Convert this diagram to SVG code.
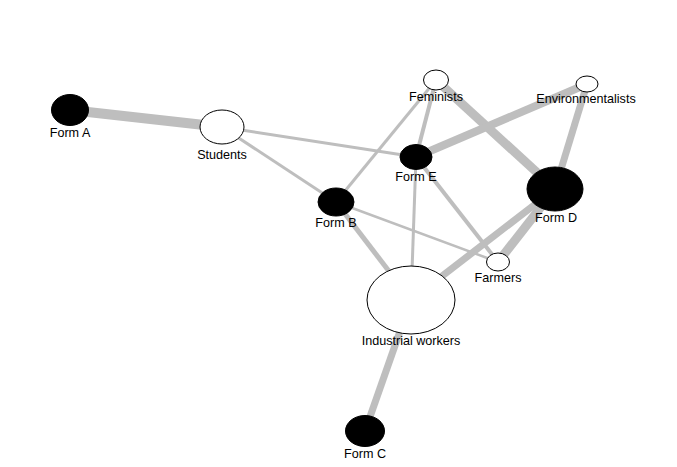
<svg xmlns="http://www.w3.org/2000/svg" width="677" height="467" viewBox="0 0 677 467">
<style>
.e{stroke:#bebebe;stroke-linecap:butt;fill:none}
.b{fill:#000;stroke:#000;stroke-width:1}
.w{fill:#fff;stroke:#000;stroke-width:1}
text{font-family:"Liberation Sans",Arial,sans-serif;font-size:12.6px;fill:#000;text-anchor:middle}
</style>
<rect width="677" height="467" fill="#fff"/>
<g id="edges">
<line class="e" x1="70" y1="110" x2="222" y2="127" stroke-width="10"/>
<line class="e" x1="222" y1="127" x2="416" y2="157" stroke-width="3"/>
<line class="e" x1="222" y1="127" x2="336" y2="202" stroke-width="3"/>
<line class="e" x1="436" y1="80" x2="336" y2="202" stroke-width="3"/>
<line class="e" x1="436" y1="80" x2="416" y2="157" stroke-width="4"/>
<line class="e" x1="436" y1="80" x2="555" y2="189" stroke-width="9"/>
<line class="e" x1="587" y1="84" x2="416" y2="157" stroke-width="8"/>
<line class="e" x1="587" y1="84" x2="555" y2="189" stroke-width="7"/>
<line class="e" x1="416" y1="157" x2="411" y2="300" stroke-width="3"/>
<line class="e" x1="416" y1="157" x2="498" y2="262" stroke-width="4"/>
<line class="e" x1="336" y1="202" x2="498" y2="262" stroke-width="2.5"/>
<line class="e" x1="336" y1="202" x2="411" y2="300" stroke-width="5"/>
<line class="e" x1="555" y1="189" x2="411" y2="300" stroke-width="7"/>
<line class="e" x1="555" y1="189" x2="498" y2="262" stroke-width="9"/>
<line class="e" x1="411" y1="300" x2="365" y2="431" stroke-width="7"/>
</g>
<g id="formA"><ellipse class="b" cx="70" cy="110" rx="18.5" ry="15.5"/><text x="70" y="137">Form A</text></g>
<g id="students"><ellipse class="w" cx="222" cy="127" rx="22" ry="17"/><text x="222" y="159">Students</text></g>
<g id="feminists"><ellipse class="w" cx="436" cy="80" rx="12.5" ry="10"/><text x="436" y="101">Feminists</text></g>
<g id="environmentalists"><ellipse class="w" cx="587" cy="84" rx="11" ry="8"/><text x="586" y="103">Environmentalists</text></g>
<g id="formE"><ellipse class="b" cx="416" cy="157" rx="16" ry="12.5"/><text x="416" y="181">Form E</text></g>
<g id="formB"><ellipse class="b" cx="336" cy="202" rx="18" ry="14"/><text x="336" y="227">Form B</text></g>
<g id="formD"><ellipse class="b" cx="555" cy="189" rx="28" ry="22"/><text x="556" y="222">Form D</text></g>
<g id="farmers"><ellipse class="w" cx="498" cy="262" rx="11.5" ry="9"/><text x="498" y="282">Farmers</text></g>
<g id="industrial"><ellipse class="w" cx="411" cy="300" rx="44" ry="34"/><text x="411" y="345">Industrial workers</text></g>
<g id="formC"><ellipse class="b" cx="365" cy="431" rx="19.5" ry="15.5"/><text x="365" y="458">Form C</text></g>
</svg>
